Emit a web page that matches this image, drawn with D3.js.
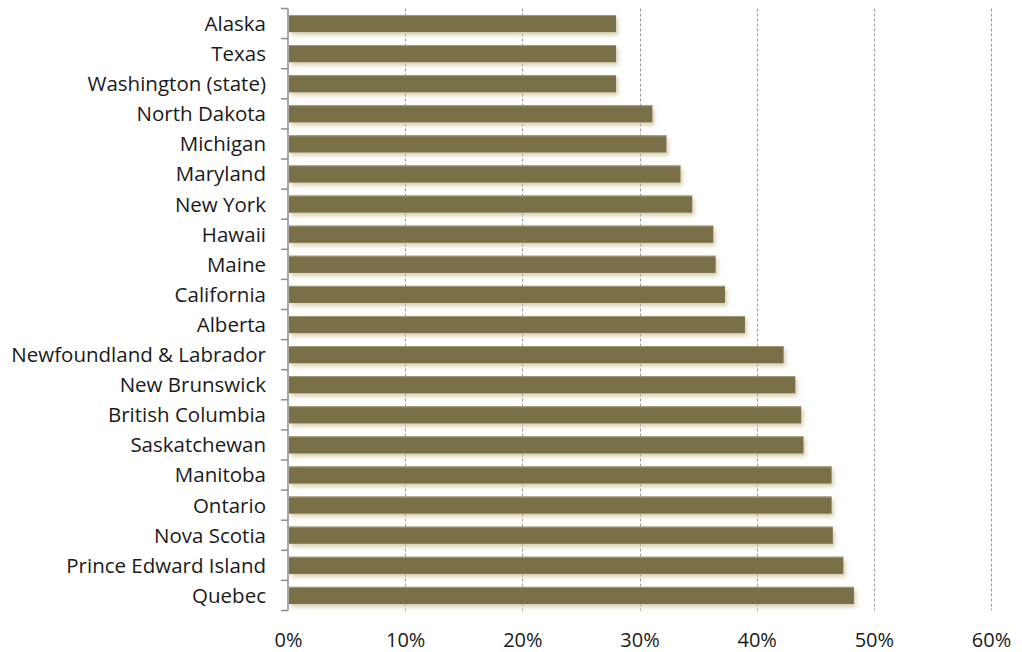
<!DOCTYPE html>
<html>
<head>
<meta charset="utf-8">
<script src="https://cdn.jsdelivr.net/npm/d3@7"></script>
<style>
  html, body { margin: 0; padding: 0; background: #fff; }
  svg text { font-family: "Open Sans", "Noto Sans", sans-serif; fill: #1a1a1a; }
</style>
</head>
<body>
<svg id="chart" width="1022" height="652"></svg>
<script>
const regions = [
    'Alaska', 'Texas', 'Washington (state)', 'North Dakota', 'Michigan',
    'Maryland', 'New York', 'Hawaii', 'Maine', 'California', 'Alberta',
    'Newfoundland & Labrador', 'New Brunswick', 'British Columbia',
    'Saskatchewan', 'Manitoba', 'Ontario', 'Nova Scotia',
    'Prince Edward Island', 'Quebec'
];
const shares = [
    28.0, 28.0, 28.0, 31.1, 32.3,
    33.5, 34.5, 36.3, 36.5, 37.3, 39.0,
    42.3, 43.3, 43.8,
    44.0, 46.4, 46.4, 46.5,
    47.4, 48.3
];
const xTicks = [0, 10, 20, 30, 40, 50, 60];

const margin = { top: 8.5, right: 31, bottom: 41.5, left: 288 };
const svg = d3.select('#chart');
const width = +svg.attr('width') - margin.left - margin.right;
const height = +svg.attr('height') - margin.top - margin.bottom;

const x = d3.scaleLinear().domain([0, 60]).range([0, width]);
const y = d3.scaleBand().domain(regions).range([0, height]).paddingInner(0.43).paddingOuter(0.215);

// soft drop shadow under each bar
const defs = svg.append('defs');
const shadow = defs.append('filter')
    .attr('id', 'bar-shadow')
    .attr('x', '-5%').attr('y', '-40%')
    .attr('width', '115%').attr('height', '220%');
shadow.append('feGaussianBlur').attr('in', 'SourceAlpha').attr('stdDeviation', 2).attr('result', 'blur');
shadow.append('feOffset').attr('in', 'blur').attr('dx', 2).attr('dy', 3).attr('result', 'off');
shadow.append('feFlood').attr('flood-color', '#c9bf98').attr('flood-opacity', 0.75);
shadow.append('feComposite').attr('in2', 'off').attr('operator', 'in').attr('result', 'sh');
const merge = shadow.append('feMerge');
merge.append('feMergeNode').attr('in', 'sh');
merge.append('feMergeNode').attr('in', 'SourceGraphic');

const g = svg.append('g').attr('transform', `translate(${margin.left},${margin.top})`);

// dashed vertical gridlines
g.append('g')
    .selectAll('line')
    .data(xTicks.filter(t => t > 0))
    .join('line')
    .attr('x1', d => Math.round(x(d)) + 0.5)
    .attr('x2', d => Math.round(x(d)) + 0.5)
    .attr('y1', 0)
    .attr('y2', height)
    .attr('stroke', '#9a9a9a')
    .attr('stroke-width', 1)
    .attr('stroke-dasharray', '3,2');

// bars
const bars = g.append('g')
    .selectAll('g')
    .data(regions.map((r, i) => ({ region: r, value: shares[i] })))
    .join('g');

bars.append('rect')
    .attr('x', 1)
    .attr('y', d => y(d.region))
    .attr('width', d => x(d.value) - 1)
    .attr('height', y.bandwidth())
    .attr('fill', '#7a6f47')
    .attr('filter', 'url(#bar-shadow)');

// light rim along the top edge
bars.append('line')
    .attr('x1', 1)
    .attr('x2', d => x(d.value))
    .attr('y1', d => y(d.region) + 0.5)
    .attr('y2', d => y(d.region) + 0.5)
    .attr('stroke', '#a69d78')
    .attr('stroke-width', 1);

// category axis
const yAxis = g.append('g')
    .call(d3.axisLeft(y).tickSize(0).tickPadding(22));
yAxis.select('.domain').remove();
yAxis.selectAll('text')
    .style('font-size', '20.5px')
    .attr('dy', '0.36em');

// left spine with ticks on band boundaries
const spine = g.append('g').attr('stroke', '#8c8c8c').attr('stroke-width', 1.5);
spine.append('line')
    .attr('x1', 0).attr('x2', 0)
    .attr('y1', 0).attr('y2', height);
const bounds = regions.map(r => y(r) - y.step() * y.paddingInner() / 2).concat([height]);
spine.selectAll('line.tick')
    .data(bounds)
    .join('line')
    .attr('class', 'tick')
    .attr('x1', -7).attr('x2', 0)
    .attr('y1', d => d).attr('y2', d => d);

// percentage axis
const xAxis = g.append('g')
    .attr('transform', `translate(0,${height})`)
    .call(d3.axisBottom(x).tickValues(xTicks).tickSize(0).tickPadding(22).tickFormat(d => d + '%'));
xAxis.select('.domain').remove();
xAxis.selectAll('text').style('font-size', '20px');
</script>
</body>
</html>
